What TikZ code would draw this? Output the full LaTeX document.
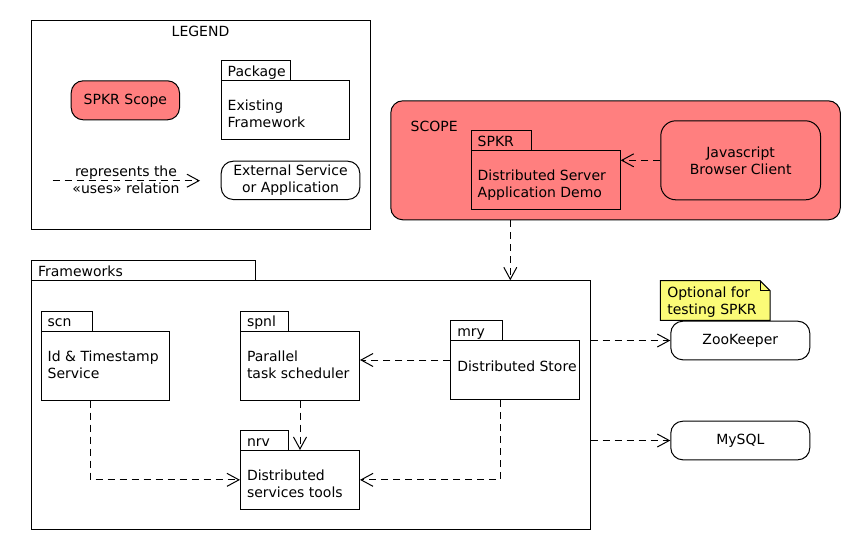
\documentclass[tikz,border=0pt]{standalone}
\usepackage{fontspec}
\setmainfont{DejaVu Sans}
\usetikzlibrary{arrows.meta}
\definecolor{scopefill}{RGB}{255,127,127}
\definecolor{notefill}{RGB}{251,251,119}
% #9 = offset of the LAST text line's baseline below the body top
\newcommand{\pkgbox}[9]{%
  \node[tabbox, minimum width=#4, anchor=north west] (#1-tab) at (#2,#3) {};
  \node[pkgbody, minimum width=#5, minimum height=#6, anchor=north west] (#1) at (#2,#3+20) {};
  \node[lbl, anchor=base west] (#1-lbl) at ([shift={(7,16)}]#1-tab.north west) {#7};
  \node[lbl, align=left, anchor=base west] (#1-txt) at ([shift={(7,#9)}]#1.north west) {#8};
}
\begin{document}
\begin{tikzpicture}[x=1pt,y=-1pt,line width=1pt,
  font=\fontsize{14}{17}\selectfont,
  tabbox/.style={draw, rectangle, inner sep=0pt, minimum height=20},
  pkgbody/.style={draw, rectangle, inner sep=0pt},
  lbl/.style={inner sep=0pt, outer sep=0pt},
  rbox/.style={draw, rounded corners=12, inner sep=0pt, align=center, anchor=north west},
  uses/.style={draw, dash pattern=on 7pt off 5pt, -{Straight Barb[length=12pt,width=13pt]}},
  plainbox/.style={draw, rectangle, inner sep=0pt, anchor=north west}]
\useasboundingbox (0,0) rectangle (860,550);

% ---------- Legend ----------
\node[plainbox, minimum width=339, minimum height=209] (legend) at (31,20) {};
\node[lbl, anchor=base] (legend-title) at (200.5,36) {LEGEND};
\node[rbox, fill=scopefill, minimum width=108.3, minimum height=39] (lscope) at (70.7,80.3) {SPKR Scope};
\pkgbox{lpkg}{220.7}{60.3}{69.3}{128.6}{59}{Package}{Existing\\Framework}{47}
\node[rbox, minimum width=138.6, minimum height=38.3] (lext) at (220.7,160.7) {External Service\\or Application};
\coordinate (la) at (52.7,180.7);
\coordinate (lb) at (200,180.7);
\draw[uses] (la) -- (lb);
\node[lbl, align=center, anchor=base] (ltxt) at (126,193.5) {represents the\\«uses» relation};

% ---------- Scope ----------
\node[rbox, fill=scopefill, minimum width=449.5, minimum height=119, rounded corners=12] (scope) at (390.3,100.3) {};
\node[lbl, anchor=base west] (scope-lbl) at (410.7,131.7) {SCOPE};
\pkgbox{spkr}{470.7}{130.3}{60}{149}{58.7}{SPKR}{Distributed Server\\Application Demo}{47.5}
\node[rbox, fill=scopefill, minimum width=159.7, minimum height=79, rounded corners=15] (js) at (660.3,120.3) {Javascript\\Browser Client};
\draw[uses] (js.west) -- (js.west -| spkr.east);

% ---------- Frameworks ----------
\pkgbox{fw}{31}{260.3}{224}{558.7}{249}{Frameworks}{}{31}
\pkgbox{scn}{40.7}{310.7}{51.6}{128.6}{69}{scn}{Id \& Timestamp\\Service}{47.5}
\pkgbox{spnl}{240}{310.7}{48.3}{119}{69}{spnl}{Parallel\\task scheduler}{47.5}
\pkgbox{mry}{450.3}{320.3}{52}{129}{58.7}{mry}{Distributed Store}{31}
\pkgbox{nrv}{240}{430}{48.3}{119}{58.7}{nrv}{Distributed\\services tools}{47.5}

% ---------- External ----------
\node[rbox, minimum width=139, minimum height=38.6] (zk) at (670.3,320.7) {ZooKeeper};
\node[rbox, minimum width=139, minimum height=38.6] (mysql) at (670.3,420.7) {MySQL};

% note
\node[inner sep=0pt, minimum width=108.7, minimum height=38.6, anchor=north west] (note) at (660.3,280.7) {};
\draw[fill=notefill] (note.north west) -- ([shift={(-10,0)}]note.north east) -- ([shift={(0,10)}]note.north east) -- (note.south east) -- (note.south west) -- cycle;
\draw ([shift={(-10,0)}]note.north east) -- ([shift={(-10,10)}]note.north east) -- ([shift={(0,10)}]note.north east);
\node[lbl, align=left, anchor=base west] (note-txt) at ([shift={(7,33.5)}]note.north west) {Optional for\\testing SPKR};

% ---------- connectors ----------
\coordinate (cx510) at (510.3,0);
\coordinate (cy360) at (0,360);
\coordinate (cx90) at (90.7,0);
\coordinate (cx500) at (500.3,0);
\draw[uses] (scope.south -| cx510) -- (fw.north -| cx510);
\draw[uses] (mry.west |- cy360) -- (spnl.east |- cy360);
\draw[uses] (spnl.south) -- (nrv.north);
\draw[uses] (scn.south -| cx90) |- (nrv.west);
\draw[uses] (mry.south -| cx500) |- (nrv.east);
\draw[uses] (zk.west -| fw.east) -- (zk.west);
\draw[uses] (mysql.west -| fw.east) -- (mysql.west);
\end{tikzpicture}
\end{document}
